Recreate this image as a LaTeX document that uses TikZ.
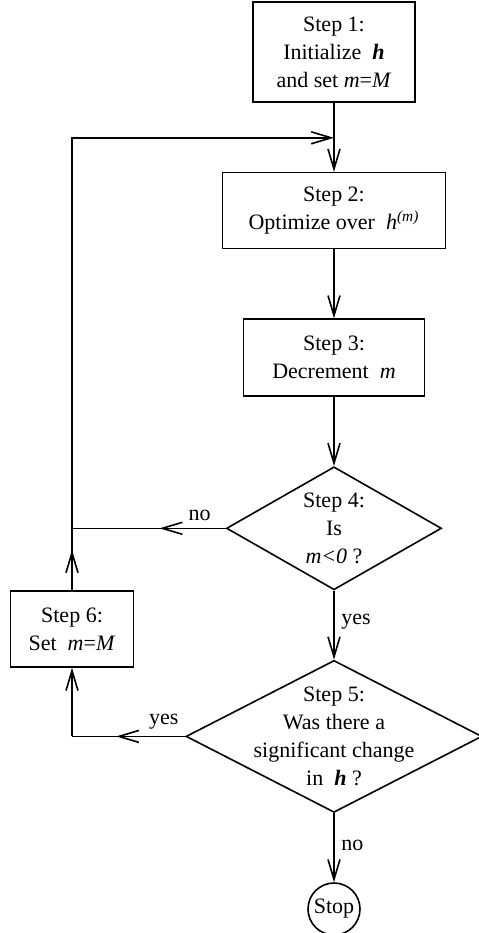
\documentclass[tikz,border=0pt]{standalone}
\usepackage{fontspec}
\setmainfont{Liberation Serif}
\usetikzlibrary{shapes}
\usetikzlibrary{positioning}
\usetikzlibrary{arrows.meta}
\usetikzlibrary{decorations.markings}
\tikzset{
    stepbox/.style = {rectangle, thick, draw=black, align=center, inner sep=0pt},
    decision/.style = {diamond, thick, draw=black, inner sep=0pt},
    stopnode/.style = {circle, thick, draw=black, inner sep=1pt, minimum size=26pt},
    edgen/.style = {-{Straight Barb[length=10pt,width=6pt]},thick,black}, % tip at end
    edgem/.style = {-,thick,black,postaction={decorate},
      decoration={markings,mark=at position #1 with {\arrow{Straight Barb[length=10pt,width=6pt]}}}} % tip midway
}
\begin{document}
\begin{tikzpicture}[
	thick,
	node distance=34.5pt,
	font=\fontsize{11}{14}\selectfont]
  \useasboundingbox (0,0) rectangle (239pt,-466.5pt);
  \node[stepbox, minimum width=81pt, minimum height=50pt] (s1) at (167pt,-26pt)
    {Step 1:\\Initialize \ \textbf{\textit{h}}\\and set \textit{m}=\textit{M}};
  \node[stepbox, minimum width=111.5pt, minimum height=38pt, below=of s1] (s2)
    {Step 2:\\Optimize over \ \textit{h}\textsuperscript{\textit{(m)}}};
  \node[stepbox, minimum width=90.5pt, minimum height=38.5pt, below=of s2] (s3)
    {Step 3:\\Decrement \ \textit{m}};
  \node[decision, minimum width=107.5pt, minimum height=61.5pt, below=of s3,
    label={[align=center]center:{Step 4:\\Is\\\textit{m<0} ?}}] (d4) {};
  \node[decision, minimum width=148pt, minimum height=76pt, below=of d4,
    label={[align=center]center:{Step 5:\\Was there a\\significant change\\in \ \textbf{\textit{h}} ?}}] (d5) {};
  \node[stopnode, below=of d5] (stop) {Stop};
  \node[stepbox, minimum width=61.5pt, minimum height=38pt] (s6) at (36pt,-314.5pt)
    {Step 6:\\Set \ \textit{m}=\textit{M}};
  \coordinate[below=17.5pt of s1] (m12);
  \coordinate (j4) at (s6.north |- d4.west);
  \coordinate (j5) at (s6.south |- d5.west);
  % main line
  \draw[edgen] (s1) -- (s2);
  \draw[edgen] (s2) -- (s3);
  \draw[edgen] (s3) -- (d4);
  \draw[edgen] (d4) -- node[right, pos=0.45] {yes} (d5);
  \draw[edgen] (d5) -- node[right, pos=0.46] {no} (stop);
  % loop back
  \draw[edgem=0.43] (d4.west) -- node[above, pos=0.17] {no} (j4);
  \draw[edgem=0.61] (d5.west) -- node[above, pos=0.19] {yes} (j5);
  \draw[edgen] (j5) -- (s6);
  \draw[edgem=0.65] (s6) -- (j4);
  \draw[edgen] (j4) |- (m12);
\end{tikzpicture}
\end{document}
